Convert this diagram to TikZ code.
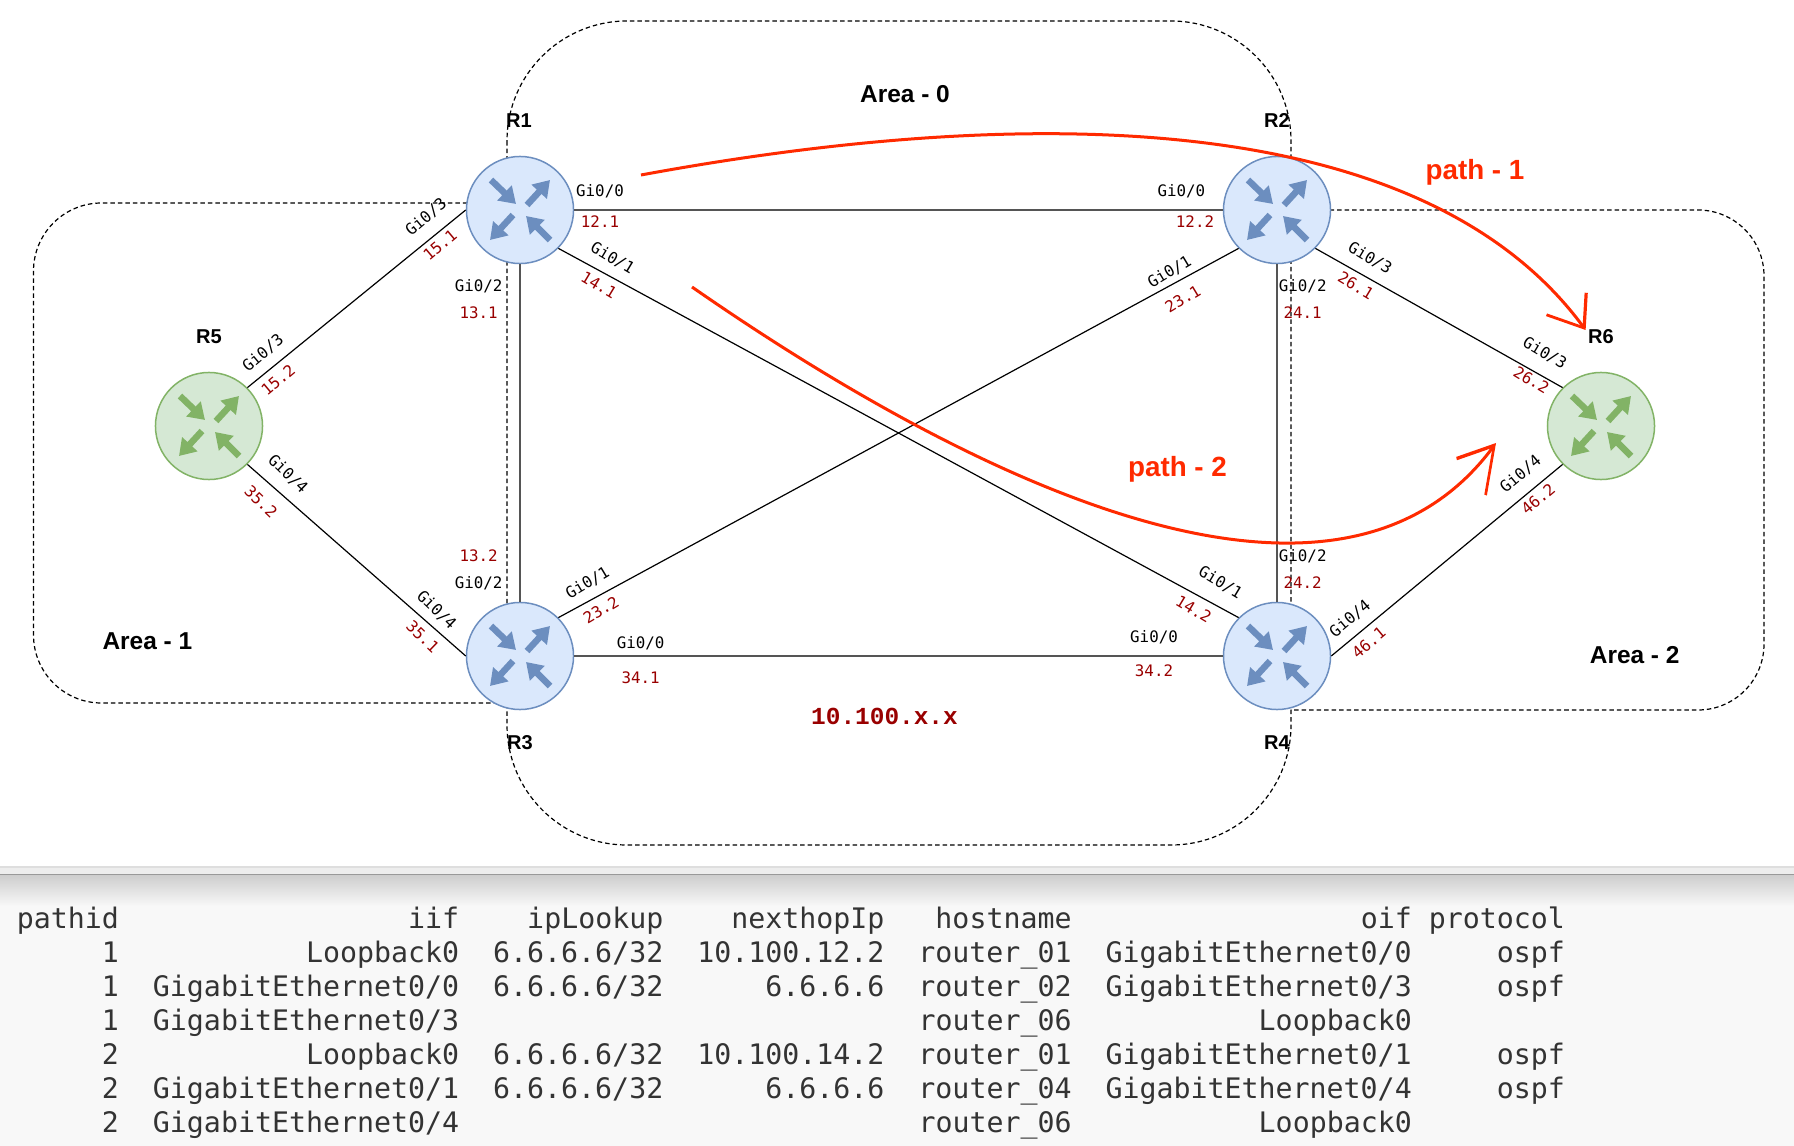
\documentclass[tikz,border=0pt]{standalone}
\usepackage{fontspec}
\usepackage{xcolor}
\setmainfont{Liberation Sans}
\setmonofont{DejaVu Sans Mono}
\newfontfamily\netmono{Liberation Mono}
\usetikzlibrary{arrows.meta, positioning}
\definecolor{routerblue}{HTML}{DAE8FC}
\definecolor{routerblueline}{HTML}{6C8EBF}
\definecolor{routergreen}{HTML}{D5E8D4}
\definecolor{routergreenline}{HTML}{82B366}
\definecolor{ipred}{HTML}{990000}
\definecolor{pathred}{HTML}{FF2A00}
\definecolor{linkgrey}{HTML}{555555}
\definecolor{tabletext}{HTML}{333333}
\definecolor{tablebg}{HTML}{F8F8F8}
\tikzset{
  routerbase/.style={circle, minimum size=1.07cm, inner sep=0pt, line width=0.015cm},
  bluerouter/.style={routerbase, draw=routerblueline, fill=routerblue},
  greenrouter/.style={routerbase, draw=routergreenline, fill=routergreen},
  routername/.style={inner sep=0pt, font=\fontsize{5.7pt}{6pt}\selectfont\bfseries},
  areaname/.style={inner sep=0pt, font=\fontsize{6.95pt}{8pt}\selectfont\bfseries},
  pathname/.style={inner sep=0pt, text=pathred, font=\fontsize{7.9pt}{9pt}\selectfont\bfseries},
  iflabel/.style={inner sep=0pt, font=\fontsize{4.5pt}{5pt}\ttfamily},
  iplabel/.style={inner sep=0pt, text=ipred, font=\fontsize{4.5pt}{5pt}\ttfamily},
  netlabel/.style={inner sep=0pt, text=ipred, font=\fontsize{6.95pt}{8pt}\netmono\bfseries},
  link/.style={line width=0.016cm, linkgrey},
  difflink/.style={line width=0.012cm, black},
  areabox/.style={dash pattern=on 0.045cm off 0.03cm, line width=0.012cm, black},
  patharrow/.style={line width=0.03cm, pathred},
  tipone/.style={-{Straight Barb[length=0.3cm, width=0.45cm, slant=0.13]}},
  tiptwo/.style={-{Straight Barb[length=0.39cm, width=0.45cm, slant=0.27]}},
  tablenode/.style={inner sep=0pt, text=tabletext, font=\fontsize{8.035pt}{0.34cm}\ttfamily},
  routericon/.pic={
    \foreach \tailx/\taily/\tipx/\tipy in {-29/-30/-4/-6, 7/-5/30/-30, -7/5/-30/30, 30/30/6/6}
      \draw[-{Triangle[length=0.16cm, width=0.2cm]}, line width=0.065cm, #1] (\tailx,\taily) -- (\tipx,\tipy);
  }
}

\begin{document}
\begin{tikzpicture}[x=0.01cm, y=-0.01cm]
\useasboundingbox (0,0) rectangle (1794,1146);

% ===== LOWER PANEL =====
\fill[tablebg] (0,874) rectangle (1794,1146);
\fill[black!13] (0,866) rectangle (1794,868);
\fill[black!7] (0,868) rectangle (1794,874);
\shade[top color=black!20, bottom color=tablebg] (0,874) rectangle (1794,906);
\fill[black!40] (0,873.5) rectangle (1794,875);

% ===== AREA BOXES =====
\draw[areabox, rounded corners=1.2cm] (507,21) rectangle (1291,845);
\coordinate (A1top) at (520,203);
\coordinate (A1bot) at (520,703);
\draw[areabox, rounded corners=0.68cm] (A1top) -- (33.5,203) -- (33.5,703) -- (A1bot);
\coordinate (A2top) at (1277,210);
\coordinate (A2bot) at (1291,710);
\draw[areabox, rounded corners=0.66cm] (A2top) -- (1764,210) -- (1764,710) -- (A2bot);

% ===== ROUTERS =====
\node[bluerouter]  (R1) at (520,210)  {};
\node[bluerouter]  (R2) at (1277,210) {};
\node[bluerouter]  (R3) at (520,656)  {};
\node[bluerouter]  (R4) at (1277,656) {};
\node[greenrouter] (R5) at (209,426)  {};
\node[greenrouter] (R6) at (1601,426) {};

% ===== LINKS =====
\draw[link] (R1.east) -- (R2.west);
\draw[link] (R3.east) -- (R4.west);
\draw[link] (R1.south) -- (R3.north);
\draw[link] (R2.south) -- (R4.north);
\draw[difflink] (R1.south east) -- (R4.north west);
\draw[difflink] (R2.south west) -- (R3.north east);
\draw[difflink] (R5.north east) -- (R1.west);
\draw[difflink] (R5.south east) -- (R3.west);
\draw[difflink] (R2.south east) -- (R6.north west);
\draw[difflink] (R4.east) -- (R6.south west);

% ===== ROUTER ICONS =====
\foreach \rt in {R1,R2,R3,R4}
  \pic at (\rt) {routericon=routerblueline};
\foreach \rt in {R5,R6}
  \pic at (\rt) {routericon=routergreenline};

% ===== NAMES =====
\node[routername] (N1) at (519,121)    {R1};
\node[routername] (N2) at (1277,121)   {R2};
\node[routername] (N3) at (520,742.7)  {R3};
\node[routername] (N4) at (1277,742.7) {R4};
\node[routername] (N5) at (209,337)    {R5};
\node[routername] (N6) at (1601,337)   {R6};
\node[areaname] (AR0) at (905,94)    {Area - 0};
\node[areaname] (AR1) at (147.4,641.7) {Area - 1};
\node[areaname] (AR2) at (1634.7,655) {Area - 2};
\node[netlabel] (NET) at (884.5,716) {10.100.x.x};
\node[pathname] (PN1) at (1475,172.7) {path - 1};
\node[pathname] (PN2) at (1177.5,469) {path - 2};

% ===== R1 PORTS =====
\node[iflabel] (G10) at (600,191) {Gi0/0};
\node[iplabel] (I10) at (600,222) {12.1};
\node[iflabel, rotate=-31] (G11) at (612.5,258) {Gi0/1};
\node[iplabel, rotate=-31] (I11) at (599,285) {14.1};
\node[iflabel] (G12) at (478.6,286) {Gi0/2};
\node[iplabel] (I12) at (478.6,312.7) {13.1};
\node[iflabel, rotate=40] (G13) at (426,217) {Gi0/3};
\node[iplabel, rotate=40] (I13) at (440,245) {15.1};

% ===== R2 PORTS =====
\node[iflabel] (G20) at (1181.4,191) {Gi0/0};
\node[iplabel] (I20) at (1195,222) {12.2};
\node[iflabel, rotate=31] (G21) at (1169.5,272) {Gi0/1};
\node[iplabel, rotate=31] (I21) at (1182.8,299) {23.1};
\node[iflabel] (G22) at (1302.7,286) {Gi0/2};
\node[iplabel] (I22) at (1302.7,312.7) {24.1};
\node[iflabel, rotate=-31] (G23) at (1370,258) {Gi0/3};
\node[iplabel, rotate=-31] (I23) at (1355.8,285.7) {26.1};

% ===== R3 PORTS =====
\node[iflabel] (G30) at (640.6,643) {Gi0/0};
\node[iplabel] (I30) at (640.6,677.7) {34.1};
\node[iflabel, rotate=31] (G31) at (587.5,583) {Gi0/1};
\node[iplabel, rotate=31] (I31) at (601,610) {23.2};
\node[iflabel] (G32) at (478.6,583) {Gi0/2};
\node[iplabel] (I32) at (478.6,556) {13.2};
\node[iflabel, rotate=-44] (G34) at (436.6,610) {Gi0/4};
\node[iplabel, rotate=-44] (I34) at (422.8,636.7) {35.1};

% ===== R4 PORTS =====
\node[iflabel] (G40) at (1154,637) {Gi0/0};
\node[iplabel] (I40) at (1154,670.7) {34.2};
\node[iflabel, rotate=-31] (G41) at (1220.4,582.7) {Gi0/1};
\node[iplabel, rotate=-31] (I41) at (1193.8,609) {14.2};
\node[iflabel] (G42) at (1302.7,556) {Gi0/2};
\node[iplabel] (I42) at (1302.7,583) {24.2};
\node[iflabel, rotate=40] (G44) at (1350,618.7) {Gi0/4};
\node[iplabel, rotate=40] (I44) at (1368.7,642.7) {46.1};

% ===== R5 AND R6 PORTS =====
\node[iflabel, rotate=40] (G53) at (263,353) {Gi0/3};
\node[iplabel, rotate=40] (I53) at (278,380) {15.2};
\node[iflabel, rotate=-44] (G54) at (288,474) {Gi0/4};
\node[iplabel, rotate=-44] (I54) at (261,501.7) {35.2};
\node[iflabel, rotate=-31] (G63) at (1544.8,353) {Gi0/3};
\node[iplabel, rotate=-31] (I63) at (1531.5,380) {26.2};
\node[iflabel, rotate=40] (G64) at (1520.5,474) {Gi0/4};
\node[iplabel, rotate=40] (I64) at (1538,499) {46.2};

% ===== PATHS =====
\coordinate (P1s) at (641,175);
\coordinate (P1e) at (1585.6,330);
\coordinate (P2s) at (692,287);
\coordinate (P2e) at (1496,443);
\draw[patharrow, tipone] (P1s) .. controls (1020,105) and (1420,105) .. (P1e);
\draw[patharrow, tiptwo] (P2s) .. controls (970,480) and (1336,660) .. (P2e);

% ===== TABLE =====
\node[tablenode, anchor=base west] (TBL) at (16.2,928) {%
\begin{tabular}[t]{@{}r@{\hspace{0.34cm}}r@{\hspace{0.34cm}}r@{\hspace{0.34cm}}r@{\hspace{0.34cm}}r@{\hspace{0.34cm}}r@{\hspace{0.17cm}}r@{}}
pathid & iif & ipLookup & nexthopIp & hostname & oif & protocol\\
1 & Loopback0 & 6.6.6.6/32 & 10.100.12.2 & router\_01 & GigabitEthernet0/0 & ospf\\
1 & GigabitEthernet0/0 & 6.6.6.6/32 & 6.6.6.6 & router\_02 & GigabitEthernet0/3 & ospf\\
1 & GigabitEthernet0/3 & & & router\_06 & Loopback0 & \\
2 & Loopback0 & 6.6.6.6/32 & 10.100.14.2 & router\_01 & GigabitEthernet0/1 & ospf\\
2 & GigabitEthernet0/1 & 6.6.6.6/32 & 6.6.6.6 & router\_04 & GigabitEthernet0/4 & ospf\\
2 & GigabitEthernet0/4 & & & router\_06 & Loopback0 & \\
\end{tabular}};

\end{tikzpicture}
\end{document}
